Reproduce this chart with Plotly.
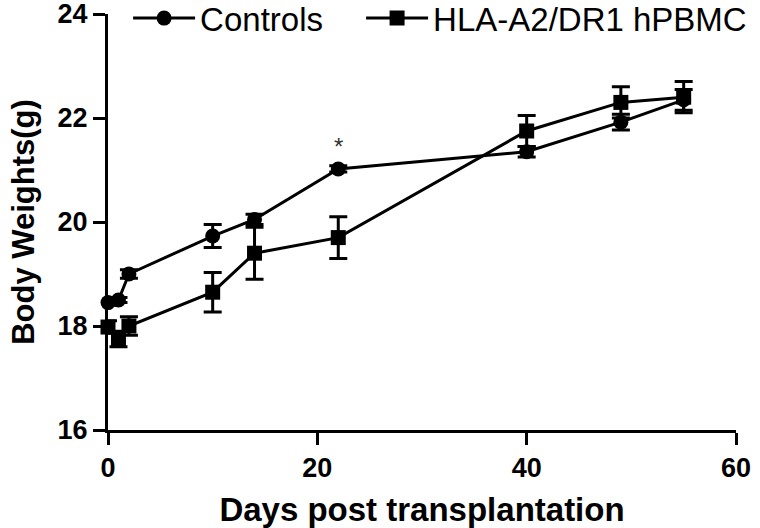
import plotly.graph_objects as go

days = [0, 1, 2, 10, 14, 22, 40, 49, 55]
controls = [18.45, 18.5, 19.0, 19.73, 20.05, 21.02, 21.35, 21.92, 22.35]
controls_err = [0.05, 0.05, 0.08, 0.22, 0.1, 0.06, 0.1, 0.15, 0.2]
hla = [17.98, 17.75, 18.0, 18.65, 19.4, 19.7, 21.75, 22.3, 22.4]
hla_err = [0.12, 0.15, 0.18, 0.38, 0.5, 0.4, 0.3, 0.3, 0.3]
x_ticks = [0, 20, 40, 60]
y_ticks = [16, 18, 20, 22, 24]
star_day, star_y = 22, 21.45

FONT = "Liberation Sans, Arial, sans-serif"

fig = go.Figure()
fig.add_trace(go.Scatter(
    x=days, y=controls, name="Controls", mode="lines+markers",
    line=dict(color="black", width=3),
    marker=dict(symbol="circle", size=15, color="black"),
    error_y=dict(type="data", array=controls_err, color="black", thickness=3, width=9),
    cliponaxis=False, legend="legend",
))
fig.add_trace(go.Scatter(
    x=days, y=hla, name="HLA-A2/DR1 hPBMC", mode="lines+markers",
    line=dict(color="black", width=3),
    marker=dict(symbol="square", size=15, color="black"),
    error_y=dict(type="data", array=hla_err, color="black", thickness=3, width=9),
    cliponaxis=False, legend="legend2",
))
fig.add_annotation(x=star_day, y=star_y, text="*", showarrow=False,
                   font=dict(family=FONT, size=24, color="#333333"))

leg_common = dict(orientation="h", y=0.99, xanchor="left", yanchor="middle",
                  font=dict(family=FONT, size=33, color="black"),
                  bgcolor="rgba(0,0,0,0)", itemwidth=62)

fig.update_layout(
    width=760, height=528,
    margin=dict(l=108, r=24, t=14, b=98, autoexpand=False),
    plot_bgcolor="white", paper_bgcolor="white",
    font=dict(family=FONT, color="black"),
    showlegend=True,
    legend=dict(x=0.032, **leg_common),
    legend2=dict(x=0.403, **leg_common),
)
fig.update_xaxes(
    range=[0, 60], tickvals=x_ticks, showgrid=False, zeroline=False,
    showline=True, linecolor="black", linewidth=3,
    ticks="outside", ticklen=12, tickwidth=3, tickcolor="black",
    tickfont=dict(family=FONT, size=27, weight="bold"), ticklabeloverflow="allow",
    title=dict(text="Days post transplantation", font=dict(family=FONT, size=33, weight="bold"), standoff=17),
)
fig.update_yaxes(
    range=[16, 24], tickvals=y_ticks, showgrid=False, zeroline=False,
    showline=True, linecolor="black", linewidth=3,
    ticks="outside", ticklen=12, tickwidth=3, tickcolor="black",
    tickfont=dict(family=FONT, size=27, weight="bold"), ticklabeloverflow="allow",
    title=dict(text="Body Weights(g)", font=dict(family=FONT, size=31, weight="bold"), standoff=14),
)
fig.write_html("out.html", config={"displayModeBar": False},
               post_script="document.body.style.margin='0';")
